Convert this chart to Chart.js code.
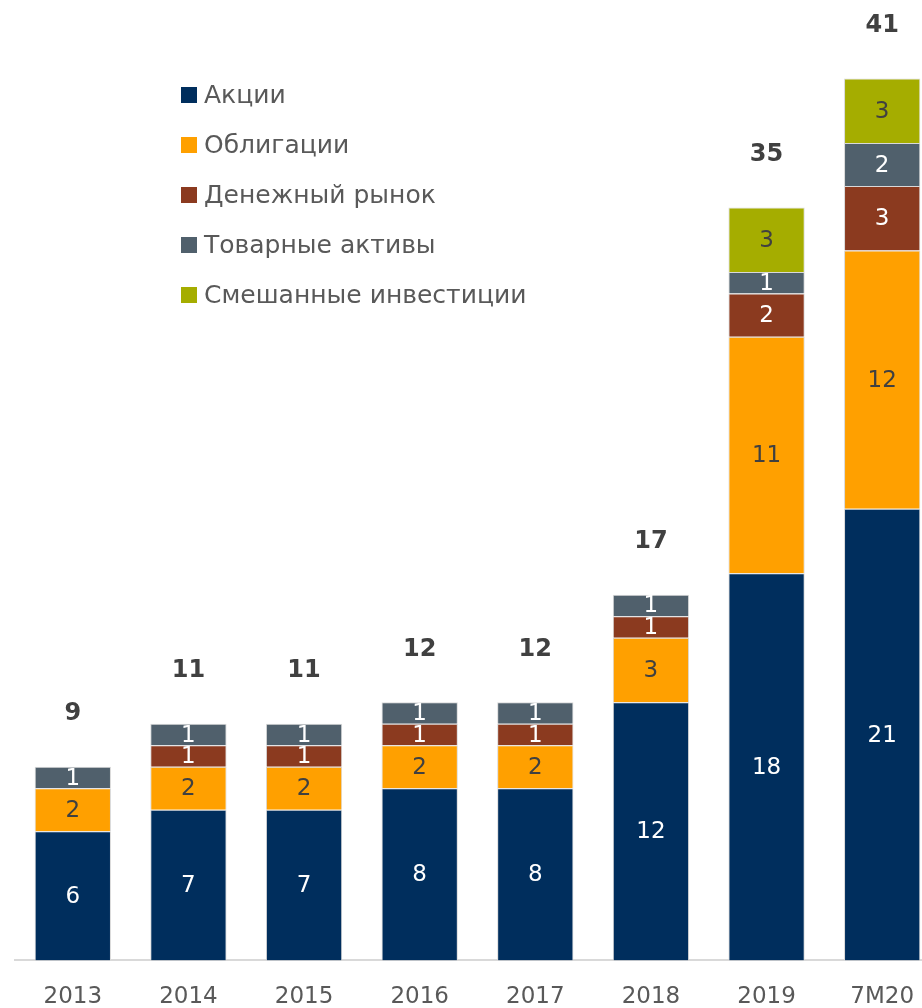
<!DOCTYPE html>
<html>
<head>
<meta charset="utf-8">
<script src="https://cdn.jsdelivr.net/npm/chart.js@4"></script>
<style>
  html, body { margin: 0; padding: 0; background: #fff; overflow: hidden; }
  #wrap { width: 940px; height: 1034px; }
</style>
</head>
<body>
<div id="wrap"><canvas id="chart1"></canvas></div>
<script>
const years = ['2013', '2014', '2015', '2016', '2017', '2018', '2019', '7M20'];
const stocks = [6, 7, 7, 8, 8, 12, 18, 21];
const bonds = [2, 2, 2, 2, 2, 3, 11, 12];
const moneyMarket = [0, 1, 1, 1, 1, 1, 2, 3];
const commodities = [1, 1, 1, 1, 1, 1, 1, 2];
const mixed = [0, 0, 0, 0, 0, 0, 3, 3];
const totals = [9, 11, 11, 12, 12, 17, 35, 41];

const fontName = '"DejaVu Sans", Verdana, sans-serif';
const ctx = document.getElementById('chart1').getContext('2d');

// подписи сегментов и итоги над столбцами
const labelsPlugin = {
    id: 'labels',
    afterDatasetsDraw(chart) {
        const c = chart.ctx;
        c.save();
        c.textAlign = 'center';
        c.textBaseline = 'middle';
        c.font = '23px ' + fontName;
        chart.data.datasets.forEach((ds, i) => {
            const meta = chart.getDatasetMeta(i);
            meta.data.forEach((bar, j) => {
                if (!ds.data[j]) return;
                c.fillStyle = ds.labelColor;
                c.fillText(ds.data[j], bar.x, (bar.y + bar.base) / 2 + 1);
            });
        });
        c.font = 'bold 24px ' + fontName;
        c.fillStyle = '#404040';
        const first = chart.getDatasetMeta(0);
        first.data.forEach((bar, j) => {
            const y = chart.scales.y.getPixelForValue(totals[j]);
            c.fillText(totals[j], bar.x, y - 53);
        });
        c.restore();
    }
};

// легенда внутри области графика
const legendPlugin = {
    id: 'insideLegend',
    afterDraw(chart) {
        const c = chart.ctx;
        c.save();
        c.font = '25px ' + fontName;
        c.textBaseline = 'middle';
        chart.data.datasets.forEach((ds, i) => {
            const y = 95 + i * 50;
            c.fillStyle = ds.backgroundColor;
            c.fillRect(181, y - 8, 16, 16);
            c.fillStyle = '#595959';
            c.fillText(ds.label, 204, y + 1);
        });
        c.restore();
    }
};

function mkSet(label, data, color, labelColor) {
    return {
        label: label,
        data: data,
        backgroundColor: color,
        borderColor: '#d9d9d9',
        borderWidth: 1,
        labelColor: labelColor,
        barPercentage: 0.66,
        categoryPercentage: 1
    };
}

new Chart(ctx, {
    type: 'bar',
    data: {
        labels: years,
        datasets: [
            mkSet('Акции', stocks, '#002e5d', '#ffffff'),
            mkSet('Облигации', bonds, '#ffa000', '#404040'),
            mkSet('Денежный рынок', moneyMarket, '#8b3a1f', '#ffffff'),
            mkSet('Товарные активы', commodities, '#50606c', '#ffffff'),
            mkSet('Смешанные инвестиции', mixed, '#a5ad00', '#404040')
        ]
    },
    options: {
        responsive: true,
        maintainAspectRatio: false,
        animation: false,
        layout: { padding: { left: 15, top: 14, right: 0, bottom: 0 } },
        plugins: {
            legend: { display: false },
            tooltip: { enabled: false }
        },
        scales: {
            x: {
                stacked: true,
                grid: { display: false, drawTicks: false },
                border: { color: '#d9d9d9', width: 2 },
                ticks: {
                    color: '#595959',
                    font: { family: fontName, size: 23 },
                    padding: 23
                }
            },
            y: {
                stacked: true,
                display: false,
                min: 0,
                max: 44
            }
        }
    },
    plugins: [labelsPlugin, legendPlugin]
});
</script>
</body>
</html>
